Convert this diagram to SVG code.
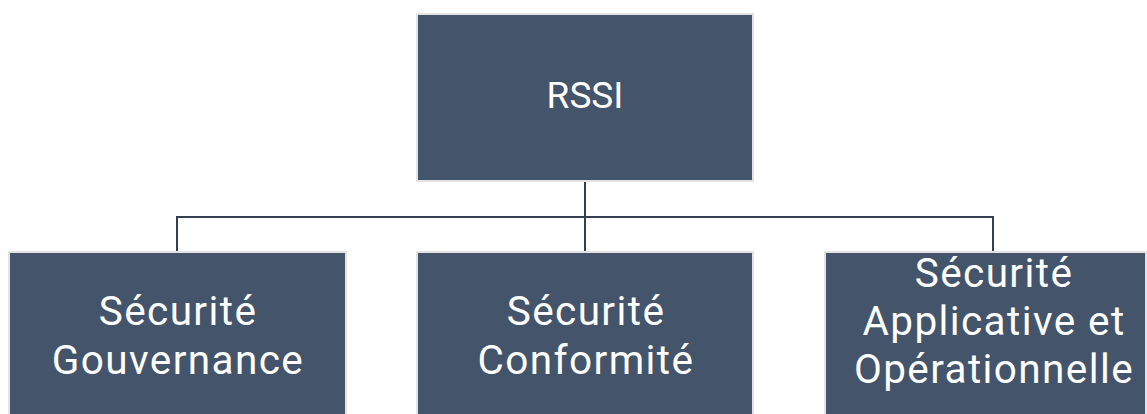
<svg xmlns="http://www.w3.org/2000/svg" width="1147" height="414" viewBox="0 0 1147 414">
<style>
.box{fill:#44546A;stroke:#E3E3E3;stroke-width:2}
.lbl{font-family:Roboto,"Open Sans","Liberation Sans",sans-serif;fill:#FFFFFF;text-anchor:middle}
.sub{font-size:40.5px;letter-spacing:1.4px}
.conn{fill:none;stroke:#333F50;stroke-width:2}
</style>
<rect width="1147" height="414" fill="#FFFFFF"/>
<g id="connectors">
<path class="conn" d="M585,182 V217"/>
<path class="conn" d="M177,252 V217 H993 V252"/>
<path class="conn" d="M585,217 V252"/>
</g>
<g id="rssi">
<rect class="box" x="417" y="14" width="336" height="167"/>
<text class="lbl" x="585" y="108" font-size="37">RSSI</text>
</g>
<g id="gouvernance">
<rect class="box" x="9" y="252" width="337" height="180"/>
<text class="lbl sub" x="178" y="325">Sécurité</text>
<text class="lbl sub" x="178" y="374">Gouvernance</text>
</g>
<g id="conformite">
<rect class="box" x="417" y="252" width="336" height="180"/>
<text class="lbl sub" x="586" y="325">Sécurité</text>
<text class="lbl sub" x="586" y="374">Conformité</text>
</g>
<g id="applicative">
<rect class="box" x="825" y="252" width="321" height="180"/>
<text class="lbl sub" x="994" y="287">Sécurité</text>
<text class="lbl sub" x="994" y="335">Applicative et</text>
<text class="lbl sub" x="994" y="383">Opérationnelle</text>
</g>
</svg>
